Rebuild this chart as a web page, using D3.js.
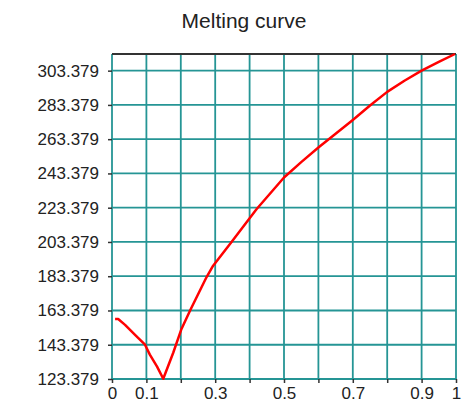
<!DOCTYPE html>
<html>
<head>
<script src="https://d3js.org/d3.v7.min.js"></script>
<style>
  body { margin: 0; background: #fff; }
  text { font-family: "Liberation Sans", Arial, sans-serif; fill: #222; }
</style>
</head>
<body>
<svg width=470 height=418></svg>
<script>
// melting curve
const xs = [0.009, 0.018, 0.038, 0.067, 0.096, 0.110, 0.131, 0.149, 0.178, 0.201, 0.227, 0.261, 0.275, 0.294,
            0.348, 0.420, 0.5, 0.55, 0.6, 0.65, 0.7, 0.75, 0.8, 0.85, 0.9, 0.95, 0.997];
const ys = [158.4, 158.4, 155.0, 149.2, 143.4, 137.6, 130.6, 123.5, 138.7, 152.1, 163.4, 177.2, 182.9, 189.5,
            203.5, 222.5, 241.0, 250.0, 258.5, 266.5, 274.6, 283.0, 291.0, 297.5, 303.4, 308.5, 313.1];
const xTicks = [0, 0.1, 0.2, 0.3, 0.4, 0.5, 0.6, 0.7, 0.8, 0.9, 1];
const xTickLabels = ["0", "0.1", "", "0.3", "", "0.5", "", "0.7", "", "0.9", "1"];
const yTicks = [123.379, 143.379, 163.379, 183.379, 203.379, 223.379, 243.379, 263.379, 283.379, 303.379];
const yMax = 313.1;

const margin = {left: 112, right: 14, top: 54, bottom: 39};
const width = 470 - margin.left - margin.right, height = 418 - margin.top - margin.bottom;

const svg = d3.select("svg").append("g")
  .attr("transform", "translate(" + margin.left + "," + margin.top + ")");

const x = d3.scaleLinear().domain([0, 1]).range([0, width]);
const y = d3.scaleLinear().domain([yTicks[0], yMax]).range([height, 0]);

// grid
const grid = "#259595";
svg.selectAll(".vg").data(xTicks).enter().append("line")
  .attr("x1", d => x(d)).attr("x2", d => x(d))
  .attr("y1", 0).attr("y2", height)
  .attr("stroke", grid).attr("stroke-width", 1.8);
svg.selectAll(".hg").data(yTicks).enter().append("line")
  .attr("x1", 0).attr("x2", width)
  .attr("y1", d => y(d)).attr("y2", d => y(d))
  .attr("stroke", grid).attr("stroke-width", 1.8);

// top border
svg.append("line").attr("x1", 0).attr("x2", width).attr("y1", 0).attr("y2", 0)
  .attr("stroke", "#333").attr("stroke-width", 1.8);

// axes
const xAxis = svg.append("g").attr("transform", "translate(0," + height + ")")
  .call(d3.axisBottom(x).tickValues(xTicks).tickSize(4).tickPadding(4)
    .tickFormat((d, i) => xTickLabels[i]));
const yAxis = svg.append("g")
  .call(d3.axisLeft(y).tickValues(yTicks).tickSize(4).tickPadding(9)
    .tickFormat(d3.format(".3f")));
[xAxis, yAxis].forEach(a => {
  a.select(".domain").remove();
  a.selectAll(".tick line").attr("stroke", "#333").attr("stroke-width", 1.5);
  a.selectAll("text").style("font-size", "17px").attr("fill", "#222");
});

// curve
const line = d3.line().x(d => x(d[0])).y(d => y(d[1]));
svg.append("path")
  .datum(xs.map((d, i) => [d, ys[i]]))
  .attr("d", line)
  .attr("fill", "none")
  .attr("stroke", "#ff0000")
  .attr("stroke-width", 2.5)
  .attr("stroke-linejoin", "round");

// title
d3.select("svg").append("text")
  .attr("x", 244).attr("y", 28)
  .attr("text-anchor", "middle")
  .style("font-size", "21px")
  .text("Melting curve");
</script>
</body>
</html>
